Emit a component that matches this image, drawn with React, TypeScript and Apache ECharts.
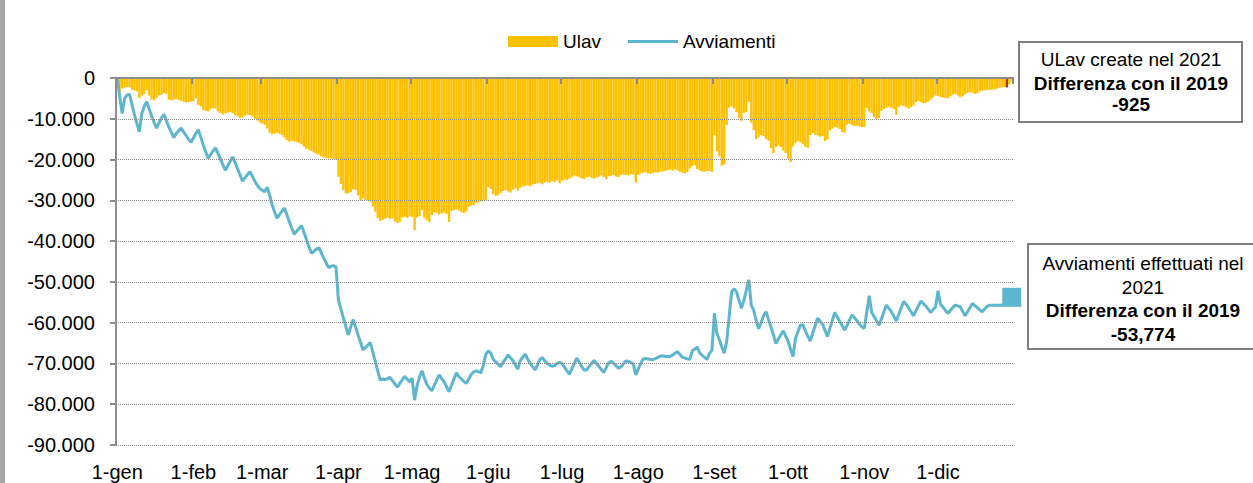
import React, { useEffect, useRef } from "react";
import * as echarts from "echarts";

const monthNames = ["gen", "feb", "mar", "apr", "mag", "giu", "lug", "ago", "set", "ott", "nov", "dic"];
const monthDays = [31, 28, 31, 30, 31, 30, 31, 31, 30, 31, 30, 31];

// ULav: cumulative difference 2021 vs 2019, daily
const ulavGen = [-2000, -3600, -2600, -2400, -2200, -2300, -2900, -3100, -3300, -4900, -4300, -3900, -3000, -4300, -5300, -5500, -4900, -4300, -4100, -3700, -3900, -5300, -5500, -5300, -5100, -5400, -5600, -5800, -6000, -5900, -5800];
const ulavFeb = [-5700, -5000, -6600, -7000, -7800, -8100, -8200, -7700, -7400, -7500, -8200, -8600, -8900, -8700, -8500, -8300, -8600, -9100, -9400, -9800, -9700, -9200, -9000, -9100, -9400, -10000, -10400, -10900];
const ulavMar = [-11200, -11500, -12400, -13400, -13800, -13600, -13400, -13700, -14000, -14600, -15200, -15600, -15400, -15500, -15700, -15900, -16300, -16800, -17400, -17600, -17900, -18300, -18600, -18800, -19200, -19500, -19600, -19800, -19700, -19900, -20000];
const ulavApr = [-24200, -26000, -27500, -28300, -28300, -28000, -27300, -27500, -28800, -30000, -29500, -29900, -30000, -30300, -31500, -32800, -34300, -35000, -34800, -34500, -34300, -34600, -34400, -35200, -35600, -35300, -34200, -34000, -34300, -33900];
const ulavMag = [-34100, -37300, -34200, -33900, -32400, -34300, -34900, -35300, -33600, -32900, -33100, -33500, -33200, -33000, -33300, -35300, -32600, -32400, -32200, -32500, -32900, -33100, -32700, -31600, -31300, -31100, -30600, -30500, -30300, -30100, -30000];
const ulavGiu = [-26700, -27200, -28500, -28900, -28700, -28200, -27700, -27500, -27800, -28100, -27400, -27000, -27600, -26900, -26600, -26500, -26300, -26600, -26200, -26000, -25800, -25700, -26100, -25600, -25400, -25700, -25300, -25500, -25100, -25800];
const ulavLug = [-25200, -24900, -25000, -24700, -24300, -23900, -24100, -24400, -24600, -24800, -24300, -24200, -24500, -24700, -24400, -24200, -23900, -24300, -24900, -24100, -24000, -23800, -24200, -24300, -23800, -23600, -23800, -23900, -23600, -23700, -25600];
const ulavAgo = [-23800, -23400, -23200, -23100, -23400, -23500, -23300, -23100, -23200, -23000, -22900, -22800, -22600, -22500, -22700, -22400, -22700, -23000, -23200, -23400, -23100, -22200, -21600, -21400, -22300, -22700, -22900, -23000, -22800, -22800, -23000];
const ulavSet = [-14000, -18000, -19200, -21500, -21200, -11500, -7300, -7000, -7500, -8400, -9800, -10500, -8600, -8300, -5800, -11000, -12800, -15000, -14500, -14000, -14300, -15000, -15400, -17200, -18400, -16900, -16600, -16900, -17800, -18400];
const ulavOtt = [-19800, -20600, -16800, -16000, -15500, -15800, -16200, -16900, -17100, -14000, -13500, -13900, -14100, -14400, -14200, -15500, -15100, -12900, -12400, -12000, -12200, -12500, -13300, -13400, -11400, -11200, -11600, -11800, -11700, -11900, -12000];
const ulavNov = [-12000, -7400, -8200, -8700, -9600, -10100, -9800, -8100, -7600, -7300, -7100, -7400, -7600, -9000, -7100, -6700, -6900, -7200, -7500, -7100, -6800, -5900, -5600, -5900, -6200, -6100, -5800, -5300, -4700, -4300];
const ulavDic = [-4400, -4700, -4800, -4900, -5000, -4500, -4100, -3900, -4300, -4700, -4500, -4000, -3700, -3500, -3600, -3900, -3800, -3300, -3100, -3000, -3000, -2900, -2800, -2800, -2600, -2400, -2300, -2200, -2300, -1600, -925];

// Avviamenti: cumulative difference 2021 vs 2019, daily
const avvGen = [0, -4500, -8700, -5000, -4200, -4000, -6500, -9000, -11200, -13200, -8700, -7000, -5800, -7600, -9300, -10900, -12300, -11000, -9800, -8900, -10400, -12000, -13300, -14600, -13600, -12900, -12300, -13200, -14100, -15000, -15800];
const avvFeb = [-14700, -13600, -12700, -14500, -16400, -18100, -19700, -18800, -17900, -17100, -18500, -19900, -21300, -22600, -21500, -20400, -19300, -20800, -22300, -23800, -25300, -24500, -23700, -23000, -24100, -25300, -26300, -27100];
const avvMar = [-27500, -27900, -26800, -28700, -31000, -32800, -34400, -33500, -32700, -31900, -33500, -35200, -36800, -38300, -37600, -36900, -36200, -37900, -39600, -41300, -43000, -42500, -42000, -41600, -42800, -44100, -45300, -46500, -46200, -46000, -46300];
const avvApr = [-54400, -56600, -58800, -60900, -63000, -61100, -59200, -61100, -63000, -64800, -66700, -66100, -65500, -64900, -67200, -69500, -71800, -74100, -73800, -74000, -73700, -73400, -74200, -75000, -75800, -74900, -74000, -73200, -73900, -74500];
const avvMag = [-73600, -79000, -75500, -73300, -71800, -73600, -75100, -76000, -76700, -75400, -74100, -72800, -73700, -74500, -75700, -76900, -75400, -73800, -72300, -73200, -73800, -74400, -74900, -73900, -72700, -72100, -71800, -72000, -72300, -70400, -67700];
const avvGiu = [-66900, -67500, -69000, -69600, -70200, -70800, -69800, -68900, -67900, -68600, -69300, -70400, -71400, -69300, -68500, -67700, -68900, -70000, -70800, -71600, -70400, -69000, -68600, -69400, -70000, -70400, -70700, -70500, -70000, -69700];
const avvLug = [-70000, -70900, -71800, -72600, -71300, -70000, -68700, -69700, -70700, -71600, -71600, -70800, -70000, -69300, -70000, -70700, -71500, -72200, -71000, -69800, -69500, -70000, -70600, -71200, -70800, -70100, -69400, -69500, -69800, -70100, -72800];
const avvAgo = [-71400, -70000, -68900, -68800, -68900, -69000, -69100, -68800, -68500, -68200, -68200, -68300, -68300, -68300, -67900, -67500, -67100, -67800, -68500, -68700, -68900, -69000, -66900, -66500, -66000, -67400, -68000, -68500, -69000, -67500, -66800];
const avvSet = [-57700, -62600, -64200, -65900, -67500, -64600, -58500, -52400, -51700, -52500, -54500, -56500, -54500, -52000, -49500, -55700, -57000, -59500, -61500, -60000, -58300, -57300, -59200, -61000, -63000, -65100, -64000, -63000, -62000, -63300];
const avvOtt = [-64600, -66500, -68300, -63800, -62200, -60600, -60500, -62000, -63300, -64500, -62600, -60700, -58900, -59600, -60400, -61900, -63400, -61400, -59400, -57500, -58600, -59700, -60700, -61800, -60600, -59300, -58100, -58800, -59500, -60400, -61000];
const avvNov = [-61400, -57400, -53400, -57500, -58500, -59600, -60600, -59000, -57300, -55700, -56500, -57300, -58400, -59600, -58000, -56400, -54800, -55500, -56300, -57300, -58300, -57100, -55900, -54700, -55300, -55900, -56700, -57500, -56800, -56100];
const avvDic = [-52200, -55500, -56200, -57000, -57700, -57000, -56300, -55700, -55900, -56100, -57200, -58300, -57300, -56300, -55300, -55800, -56300, -56900, -57300, -56600, -56000, -55700, -55700, -55700, -55700, -55700, -55700, -55500, -55000, -54400, -53774];

const ulavHighlightDay = "29-dic";
const yTicks = { min: -90000, max: 0, interval: 10000 };

const ulavBoxLines = ["ULav create nel 2021", "Differenza con il 2019", "-925"];
const avvBoxLines = ["Avviamenti effettuati nel", "2021", "Differenza con il 2019", "-53,774"];

const categories = monthNames.flatMap((m, i) =>
  Array.from({ length: monthDays[i] }, (_, k) => `${k + 1}-${m}`)
);
const ulav = [...ulavGen, ...ulavFeb, ...ulavMar, ...ulavApr, ...ulavMag, ...ulavGiu, ...ulavLug, ...ulavAgo, ...ulavSet, ...ulavOtt, ...ulavNov, ...ulavDic];
const avviamenti = [...avvGen, ...avvFeb, ...avvMar, ...avvApr, ...avvMag, ...avvGiu, ...avvLug, ...avvAgo, ...avvSet, ...avvOtt, ...avvNov, ...avvDic];

const FONT = "'Liberation Sans', Arial, sans-serif";
const LINE_COLOR = "#5DB5CE";
const fmt = (v: number) => {
  const s = Math.abs(v).toString().replace(/\B(?=(\d{3})+(?!\d))/g, ".");
  return (v < 0 ? "-" : "") + s;
};
const isMonthStart = (_i: number, v: string) => typeof v === "string" && v.startsWith("1-");

export default function App() {
  const ref = useRef<HTMLDivElement>(null);
  useEffect(() => {
    document.body.style.margin = "0";
    if (!ref.current) return;
    const chart = echarts.init(ref.current, undefined, { renderer: "svg" });
    const hi = categories.indexOf(ulavHighlightDay);
    const last = avviamenti.length - 1;
    const textBase = { fontFamily: FONT, fontSize: 19, fill: "#000", textAlign: "center", textVerticalAlign: "middle" };
    chart.setOption({
      animation: false,
      backgroundColor: "#fff",
      grid: { left: 116, right: 240, top: 78, bottom: 38, containLabel: false },
      legend: {
        left: 503,
        top: 27,
        itemWidth: 50,
        itemHeight: 11,
        itemGap: 27,
        data: [
          { name: "Ulav", icon: "rect" },
          { name: "Avviamenti", icon: "path://M0,0L50,0L50,3L0,3Z" },
        ],
        textStyle: { fontFamily: FONT, fontSize: 19, color: "#000" },
      },
      xAxis: [
        {
          type: "category",
          data: categories,
          position: "top",
          boundaryGap: true,
          z: 10,
          axisLine: { show: true, lineStyle: { color: "#8c8c8c", width: 2 } },
          axisTick: { show: true, inside: true, length: 6, interval: isMonthStart, lineStyle: { color: "#8c8c8c", width: 2 } },
          axisLabel: { show: false },
          splitLine: { show: false },
        },
        {
          type: "category",
          data: categories,
          position: "bottom",
          boundaryGap: true,
          axisLine: { show: false },
          axisTick: { show: false },
          axisLabel: {
            show: true,
            interval: isMonthStart,
            margin: 17,
            fontFamily: FONT,
            fontSize: 20,
            color: "#000",
          },
          splitLine: { show: false },
        },
      ],
      yAxis: {
        type: "value",
        min: yTicks.min,
        max: yTicks.max,
        interval: yTicks.interval,
        z: 10,
        axisLine: { show: true, lineStyle: { color: "#8c8c8c", width: 2 } },
        axisTick: { show: true, length: 6, lineStyle: { color: "#8c8c8c", width: 2 } },
        axisLabel: { margin: 21, fontFamily: FONT, fontSize: 20, color: "#000", formatter: fmt },
        splitLine: { show: true, lineStyle: { color: "#8c8c8c", width: 1, type: "dotted" } },
      },
      series: [
        {
          name: "Ulav",
          type: "bar",
          xAxisIndex: 0,
          barCategoryGap: "4%",
          itemStyle: { color: "#FFC000" },
          data: ulav.map((v, i) => (i === hi ? { value: v, itemStyle: { color: "#A83228" } } : v)),
          z: 2,
        },
        {
          name: "Avviamenti",
          type: "line",
          xAxisIndex: 0,
          data: avviamenti,
          symbol: "none",
          lineStyle: { color: LINE_COLOR, width: 3 },
          itemStyle: { color: LINE_COLOR },
          z: 3,
        },
        {
          name: "fine",
          type: "scatter",
          xAxisIndex: 0,
          symbol: "rect",
          symbolSize: [19, 19],
          itemStyle: { color: LINE_COLOR, opacity: 1 },
          data: [[last, avviamenti[last]]],
          z: 4,
        },
      ],
      graphic: [
        { type: "rect", left: 0, top: 0, shape: { x: 0, y: 0, width: 5, height: 483 }, style: { fill: "#A6A6A6" } },
        {
          type: "rect",
          shape: { x: 1019, y: 42, width: 223, height: 80 },
          style: { fill: "#fff", stroke: "#7F7F7F", lineWidth: 2 },
        },
        { type: "text", x: 1131, y: 59, style: { ...textBase, text: ulavBoxLines[0] } },
        { type: "text", x: 1131, y: 83, style: { ...textBase, fontWeight: "bold", text: ulavBoxLines[1] } },
        { type: "text", x: 1131, y: 104, style: { ...textBase, fontWeight: "bold", text: ulavBoxLines[2] } },
        {
          type: "rect",
          shape: { x: 1028, y: 244, width: 240, height: 105 },
          style: { fill: "#fff", stroke: "#7F7F7F", lineWidth: 2 },
        },
        { type: "text", x: 1143, y: 263, style: { ...textBase, text: avvBoxLines[0] } },
        { type: "text", x: 1143, y: 287, style: { ...textBase, text: avvBoxLines[1] } },
        { type: "text", x: 1143, y: 310, style: { ...textBase, fontWeight: "bold", text: avvBoxLines[2] } },
        { type: "text", x: 1143, y: 334, style: { ...textBase, fontWeight: "bold", text: avvBoxLines[3] } },
      ],
    });
    return () => chart.dispose();
  }, []);
  return <div ref={ref} style={{ width: 1253, height: 483 }} />;
}
